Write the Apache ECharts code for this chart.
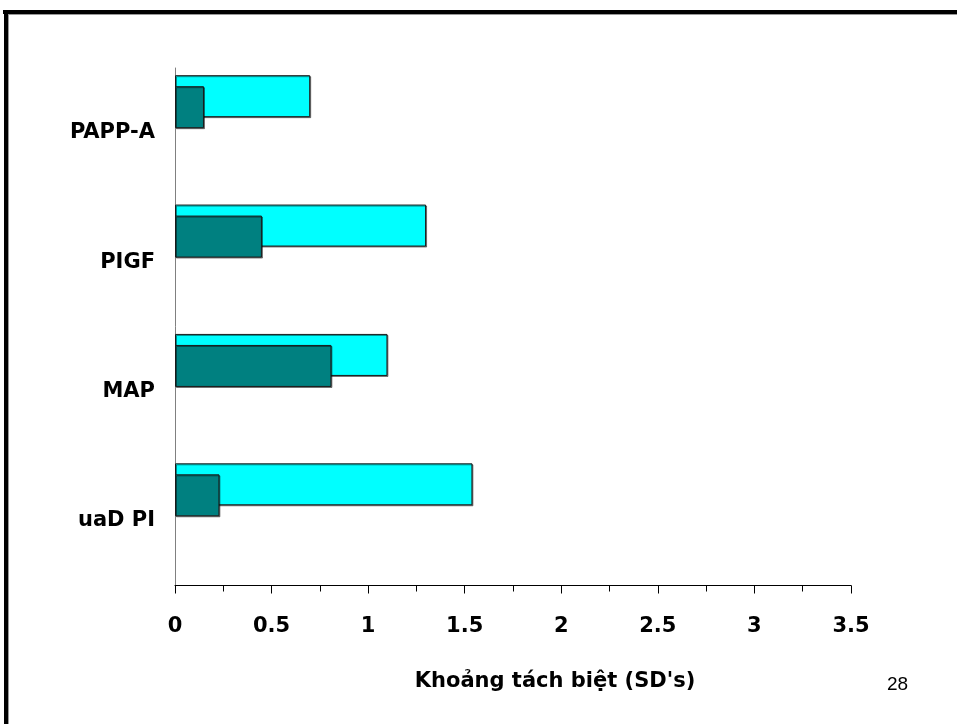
<!DOCTYPE html>
<html>
<head>
<meta charset="utf-8">
<script src="https://cdn.jsdelivr.net/npm/echarts@6/dist/echarts.min.js"></script>
<style>
html,body{margin:0;padding:0;background:#fff;}
#chart{width:957px;height:724px;}
</style>
</head>
<body>
<div id="chart"></div>
<script>
const categories = ['uaD PI', 'MAP', 'PIGF', 'PAPP-A'];
const cyanValues = [1.54, 1.10, 1.30, 0.70];
const tealValues = [0.23, 0.81, 0.45, 0.15];
const spacerValues = [null, null, null, null];
const xTicks = [0, 0.5, 1, 1.5, 2, 2.5, 3, 3.5];
const xAxisTitle = "Khoảng tách biệt (SD's)";
const pageNumber = '28';

const FONT = '"DejaVu Sans", "Liberation Sans", Arial, sans-serif';
const FONT2 = '"Liberation Sans", Arial, sans-serif';
const chart = echarts.init(document.getElementById('chart'), null, {renderer: 'canvas'});

const barStyle = (color) => ({
  color: color,
  borderColor: '#1a1a1a',
  borderWidth: 1,
  shadowColor: 'rgba(0,0,0,0.45)',
  shadowOffsetX: 1,
  shadowOffsetY: 1,
  shadowBlur: 0
});

chart.setOption({
  animation: false,
  backgroundColor: '#fff',
  grid: {left: 175, right: 106, top: 68, bottom: 138.5, containLabel: false},
  xAxis: {
    type: 'value',
    min: xTicks[0],
    max: xTicks[xTicks.length - 1],
    interval: 0.5,
    name: xAxisTitle,
    nameLocation: 'middle',
    nameGap: 86,
    nameTextStyle: {fontFamily: FONT, fontWeight: 'bold', fontSize: 21, color: '#000', padding: [0, 0, 0, 84]},
    axisLine: {show: true, lineStyle: {color: '#000', width: 1}},
    axisTick: {show: true, length: 8, lineStyle: {color: '#000'}},
    minorTick: {show: true, splitNumber: 2, length: 6, lineStyle: {color: '#000'}},
    splitLine: {show: false},
    minorSplitLine: {show: false},
    axisLabel: {
      fontFamily: FONT, fontWeight: 'bold', fontSize: 21, color: '#000', margin: 31,
      formatter: (v) => String(v)
    }
  },
  yAxis: {
    type: 'category',
    data: categories,
    axisLine: {show: true, lineStyle: {color: '#808080', width: 1}},
    axisTick: {show: false},
    splitLine: {show: false},
    axisLabel: {fontFamily: FONT, fontWeight: 'bold', fontSize: 21, color: '#000', margin: 20}
  },
  series: [
    {type: 'bar', name: 'cyan', data: cyanValues, barWidth: 42, barGap: '-73.8%', itemStyle: barStyle('#00FFFF'), z: 2},
    {type: 'bar', name: 'teal', data: tealValues, barWidth: 42, barGap: '-73.8%', itemStyle: barStyle('#008080'), z: 3},
    {type: 'bar', name: 'spacer', data: spacerValues, barWidth: 93, barGap: '-73.8%', itemStyle: {color: 'transparent'}, silent: true}
  ],
  graphic: [
    {type: 'rect', shape: {x: 3, y: 10, width: 960, height: 4}, style: {fill: '#000'}},
    {type: 'rect', shape: {x: 9, y: 14, width: 960, height: 1}, style: {fill: '#999'}},
    {type: 'rect', shape: {x: 4, y: 10, width: 4, height: 720}, style: {fill: '#000'}},
    {type: 'rect', shape: {x: 8, y: 14, width: 1, height: 720}, style: {fill: '#999'}},
    {type: 'text', left: 887, top: 675, style: {text: pageNumber, font: '19px ' + FONT2, fill: '#000'}}
  ]
});
</script>
</body>
</html>
